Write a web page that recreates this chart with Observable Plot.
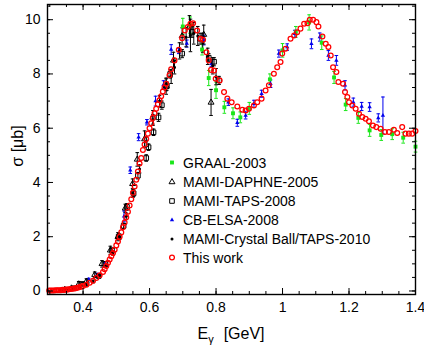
<!DOCTYPE html>
<html><head><meta charset="utf-8">
<script src="https://cdn.jsdelivr.net/npm/d3@7"></script>
<script src="https://cdn.jsdelivr.net/npm/@observablehq/plot@0.6"></script>
<style>
body{margin:0;background:#fff;}
#chart{position:relative;width:424px;height:348px;}
svg{font-family:"Liberation Sans",Arial,sans-serif;}
</style></head>
<body><div id="chart"></div>
<script>
// ---- data: [E (GeV), sigma (µb)] or [E, sigma, error] ----
const thisWork = [
[0.298,0.02],[0.303,0.02],[0.308,0.02],[0.313,0.02],[0.318,0.03],[0.323,0.03],[0.328,0.03],[0.333,0.03],[0.338,0.04],[0.343,0.04],
[0.348,0.05],[0.353,0.05],[0.358,0.06],[0.363,0.07],[0.368,0.08],[0.373,0.09],[0.378,0.10],[0.383,0.12],[0.388,0.14],[0.394,0.16],
[0.400,0.18],[0.410,0.23],[0.420,0.30],[0.430,0.38],[0.440,0.48],[0.450,0.58],[0.460,0.70],[0.465,0.80],[0.470,0.92],[0.475,1.04],
[0.480,1.16],[0.485,1.28],[0.490,1.40],[0.495,1.52],[0.500,1.68],[0.505,1.82],[0.510,2.00],[0.515,2.16],[0.520,2.35],[0.525,2.52],
[0.530,2.72],[0.535,2.92],[0.540,3.15],[0.545,3.38],[0.550,3.62],[0.555,3.85],[0.560,4.10],[0.565,4.40],[0.570,4.70],[0.575,4.90],
[0.580,5.20],[0.585,5.40],[0.590,5.60],[0.595,5.80],[0.600,6.00],[0.605,6.18],[0.610,6.38],[0.615,6.55],[0.620,6.72],[0.625,6.88],
[0.630,7.03],[0.635,7.18],[0.640,7.35],[0.645,7.50],[0.650,7.64],[0.660,7.95],[0.665,8.17],[0.675,8.50],[0.688,8.89],[0.698,9.32],
[0.706,9.60],[0.715,9.73],[0.723,9.85],[0.731,9.87],[0.743,9.60],[0.753,9.30],[0.761,9.26],[0.771,8.80],[0.778,8.50],[0.785,8.15],
[0.794,8.13],[0.799,7.82],[0.811,7.76],[0.824,7.33],[0.834,7.09],[0.847,6.96],[0.864,6.80],[0.879,6.68],[0.889,6.65],[0.899,6.72],
[0.914,6.84],[0.924,6.96],[0.937,7.09],[0.949,7.39],[0.959,7.58],[0.974,8.01],[0.984,8.25],[0.994,8.44],[0.999,8.75],[1.009,8.93],
[1.024,9.30],[1.035,9.42],[1.044,9.54],[1.054,9.67],[1.065,9.85],[1.075,9.87],[1.082,10.00],[1.092,10.00],[1.102,9.91],[1.108,9.75],
[1.120,9.38],[1.130,9.11],[1.138,8.99],[1.145,8.68],[1.152,8.25],[1.162,8.07],[1.168,7.70],[1.182,7.64],[1.188,7.33],[1.195,7.15],
[1.200,6.96],[1.210,6.84],[1.220,6.72],[1.230,6.53],[1.240,6.41],[1.250,6.35],[1.260,6.26],[1.272,6.10],[1.282,6.04],[1.295,5.98],
[1.308,5.86],[1.320,5.86],[1.335,5.94],[1.345,5.82],[1.360,6.04],[1.370,5.80],[1.380,5.80],[1.390,5.80],[1.400,5.90]
];
const graal2003 = [
[0.700,9.75,0.30],[0.722,9.80,0.30],[0.758,8.90,0.20],[0.778,7.85,0.28],[0.800,7.40,0.30],[0.825,6.77,0.22],[0.851,6.55,0.20],
[0.873,6.40,0.20],[0.900,6.73,0.22],[0.962,7.80,0.20],[1.000,8.87,0.25],[1.040,9.55,0.20],[1.080,9.90,0.28],[1.118,9.15,0.25],
[1.155,7.87,0.22],[1.190,6.87,0.22],[1.228,6.38,0.20],[1.262,5.92,0.22],[1.297,5.75,0.20],[1.330,5.78,0.20],[1.363,5.65,0.20],[1.400,5.32,0.20]
];
const daphne2005 = [
[0.345,0.05,0.03],[0.365,0.10,0.05],[0.387,0.25,0.10],[0.410,0.35,0.10],[0.435,0.60,0.10],[0.457,1.00,0.12],[0.482,1.50,0.15],
[0.505,2.00,0.15],[0.527,3.05,0.15],[0.549,3.95,0.18],[0.563,4.85,0.25],[0.585,5.60,0.30],[0.610,6.40,0.25],[0.650,7.55,0.30],
[0.672,8.50,0.30],[0.698,9.40,0.30],[0.720,9.75,0.40],[0.763,9.45,0.35],[0.785,6.95,0.48]
];
const taps2008 = [
[0.372,0.10,0.04],[0.397,0.26,0.05],[0.447,0.55,0.06],[0.467,1.00,0.08],[0.487,1.50,0.08],[0.507,2.00,0.10],[0.522,2.40,0.10],
[0.532,3.10,0.12],[0.552,3.60,0.12],[0.565,4.25,0.12],[0.590,4.90,0.12],[0.597,5.30,0.12],[0.612,5.85,0.12],[0.627,6.40,0.15],
[0.637,6.85,0.15],[0.652,7.55,0.15],[0.662,8.00,0.15],[0.698,8.75,0.15],[0.728,9.55,0.20],[0.752,9.30,0.20],[0.778,8.60,0.15],
[0.794,8.45,0.15],[0.809,7.76,0.15]
];
const cbElsa2008 = [
[0.417,0.42,0.05],[0.442,0.60,0.05],[0.465,0.98,0.08],[0.523,2.75,0.20],[0.542,4.45,0.12],[0.567,5.67,0.13],[0.592,6.22,0.10],
[0.618,7.00,0.18],[0.642,7.60,0.15],[0.665,8.90,0.18],[0.688,8.85,0.10],[0.712,9.12,0.13],[0.763,9.25,0.18],[0.786,8.38,0.10],
[0.837,6.96,0.12],[0.864,6.20,0.13],[0.889,6.47,0.13],[0.914,6.90,0.13],[0.937,7.27,0.13],[0.964,7.64,0.14],[0.989,8.75,0.13],
[1.014,8.99,0.12],[1.037,9.48,0.13],[1.087,9.11,0.18],[1.112,9.36,0.15],[1.138,8.68,0.18],[1.162,8.50,0.18],[1.188,7.58,0.17],
[1.213,6.96,0.15],[1.238,6.80,0.15],[1.262,6.78,0.16],[1.288,6.38,0.15],[1.302,6.47,0.68]
];
const cbTaps2010 = [
[0.330,0.02,0.02],[0.350,0.04,0.02],[0.370,0.08,0.03],[0.390,0.13,0.03],[0.410,0.22,0.04],[0.430,0.35,0.05],[0.450,0.58,0.05],
[0.470,0.95,0.06],[0.490,1.40,0.08],[0.510,2.00,0.10],[0.530,2.75,0.12],[0.550,3.60,0.15],[0.570,4.50,0.15],[0.590,5.50,0.18],
[0.610,6.30,0.20],[0.630,7.00,0.20],[0.650,7.60,0.22],[0.665,7.90,0.25],[0.675,8.25,0.25],[0.690,8.85,0.30],[0.710,9.35,0.35],
[0.723,9.42,0.60],[0.733,9.50,0.40],[0.745,9.40,0.35],[0.760,9.15,0.35],[0.775,8.65,0.30],[0.790,8.30,0.30],[0.800,7.90,0.30]
];
const seriesNames = ["GRAAL-2003","MAMI-DAPHNE-2005","MAMI-TAPS-2008","CB-ELSA-2008","MAMI-Crystal Ball/TAPS-2010","This work"];
const xTicks = [0.4,0.6,0.8,1.0,1.2,1.4];
const xTickLabels = ["0.4","0.6","0.8","1","1.2","1.4"];
const yTicks = [0,2,4,6,8,10];
const yTickLabels = ["0","2","4","6","8","10"];

// ---- layout ----
const W = 424, H = 348, mL = 47, mR = 9, mT = 4, mB = 54;
const innerW = W - mL - mR, innerH = H - mT - mB;
const xDomain = [0.293, 1.4], yDomain = [-0.13, 10.56];
const xMinor = d3.range(0.3, 1.4001, 0.05).map(v => +v.toFixed(2));
const yMinor = d3.range(0, 10.5001, 0.5);

const rows = arr => arr.map(d => ({x: d[0], y: d[1], e: d[2] || 0}));
const cap = {draw(ctx, size){ const w = Math.sqrt(size / Math.PI); ctx.moveTo(-w, 0); ctx.lineTo(w, 0); }};

const GREEN = "#19e619", BLUE = "#0000ee", RED = "#ff0000", BLACK = "#000";
function errMarks(data, color){
  return [
    Plot.ruleX(data, {x: "x", y1: d => d.y - d.e, y2: d => d.y + d.e, stroke: color, strokeWidth: 1}),
    Plot.dot(data, {x: "x", y: d => d.y + d.e, symbol: cap, r: 1.8, stroke: color, fill: "none", strokeWidth: 1}),
    Plot.dot(data, {x: "x", y: d => d.y - d.e, symbol: cap, r: 1.8, stroke: color, fill: "none", strokeWidth: 1})
  ];
}
const G = rows(graal2003), D = rows(daphne2005), T = rows(taps2008), C = rows(cbElsa2008), K = rows(cbTaps2010), R = rows(thisWork);

const plot = Plot.plot({
  width: W, height: H, marginLeft: mL, marginRight: mR, marginTop: mT, marginBottom: mB,
  x: {domain: xDomain}, y: {domain: yDomain},
  style: {fontFamily: '"Liberation Sans", Arial, sans-serif', fontSize: "14px", color: "#000", background: "#fff"},
  marks: [
    ...errMarks(G, GREEN),
    ...errMarks(C, BLUE),
    ...errMarks(D, BLACK),
    ...errMarks(T, BLACK),
    ...errMarks(K, BLACK),
    Plot.dot(G, {x: "x", y: "y", symbol: "square", r: 2.2, fill: GREEN}),
    Plot.dot(C, {x: "x", y: "y", symbol: "triangle", r: 1.6, fill: BLUE}),
    Plot.dot(D, {x: "x", y: "y", symbol: "triangle", r: 2.2, stroke: BLACK, fill: "none", strokeWidth: 1}),
    Plot.dot(T, {x: "x", y: "y", symbol: "square", r: 2.6, stroke: BLACK, fill: "none", strokeWidth: 1}),
    Plot.dot(K, {x: "x", y: "y", symbol: "circle", r: 1.5, fill: BLACK}),
    Plot.dot(R, {x: "x", y: "y", symbol: "circle", r: 2.4, stroke: RED, fill: "none", strokeWidth: 1.25}),
    // inward ticks on all four sides
    Plot.ruleX(xMinor, {x: d => d, insetTop: innerH - 3, stroke: BLACK}),
    Plot.ruleX(xMinor, {x: d => d, insetBottom: innerH - 3, stroke: BLACK}),
    Plot.ruleX(xTicks, {x: d => d, insetTop: innerH - 6, stroke: BLACK}),
    Plot.ruleX(xTicks, {x: d => d, insetBottom: innerH - 6, stroke: BLACK}),
    Plot.ruleY(yMinor, {y: d => d, insetRight: innerW - 3, stroke: BLACK}),
    Plot.ruleY(yMinor, {y: d => d, insetLeft: innerW - 3, stroke: BLACK}),
    Plot.ruleY(yTicks, {y: d => d, insetRight: innerW - 6, stroke: BLACK}),
    Plot.ruleY(yTicks, {y: d => d, insetLeft: innerW - 6, stroke: BLACK}),
    Plot.axisX(xTicks, {anchor: "bottom", tickSize: 0, tickPadding: 8, fontSize: 14, tickFormat: d => xTickLabels[xTicks.indexOf(d)], label: null}),
    Plot.axisY(yTicks, {anchor: "left", tickSize: 0, tickPadding: 7, fontSize: 14, tickFormat: d => yTickLabels[yTicks.indexOf(d)], label: null}),
    Plot.frame({stroke: BLACK, strokeWidth: 1.4})
  ]
});
document.getElementById("chart").appendChild(plot);

// ---- axis titles and legend ----
const svg = d3.select(plot);
svg.append("text").attr("transform", "translate(23,146) rotate(-90)").attr("text-anchor", "middle")
  .attr("font-size", 16).attr("fill", "#000").text("σ [μb]");
const xl = svg.append("text").attr("x", 231).attr("y", 339).attr("text-anchor", "middle").attr("font-size", 16).attr("fill", "#000");
xl.append("tspan").text("E");
xl.append("tspan").attr("font-size", 11).attr("dy", 4).text("γ");
xl.append("tspan").attr("dy", -4).attr("dx", 10).text("[GeV]");

const legendY = [162.5, 182, 201, 220, 239, 257.5];
const lx = 172, tx = 183;
const sym = (type, r) => d3.symbol(type, r * r * Math.PI)();
const legendSpecs = [
  {d: sym(d3.symbolSquare, 2.2), fill: GREEN, stroke: "none"},
  {d: sym(d3.symbolTriangle, 2.2), fill: "none", stroke: BLACK},
  {d: sym(d3.symbolSquare, 2.6), fill: "none", stroke: BLACK},
  {d: sym(d3.symbolTriangle, 1.6), fill: BLUE, stroke: "none"},
  {d: sym(d3.symbolCircle, 1.5), fill: BLACK, stroke: "none"},
  {d: sym(d3.symbolCircle, 2.4), fill: "none", stroke: RED, sw: 1.25}
];
const lg = svg.append("g").attr("text-anchor", "start");
seriesNames.forEach((name, i) => {
  const s = legendSpecs[i];
  lg.append("path").attr("d", s.d).attr("transform", `translate(${lx},${legendY[i]})`)
    .attr("fill", s.fill).attr("stroke", s.stroke).attr("stroke-width", s.sw || 1);
  lg.append("text").attr("x", tx).attr("y", legendY[i]).attr("dy", "0.36em").attr("text-anchor", "start")
    .attr("font-size", 14).attr("fill", "#000").text(name);
});
</script>
</body></html>
